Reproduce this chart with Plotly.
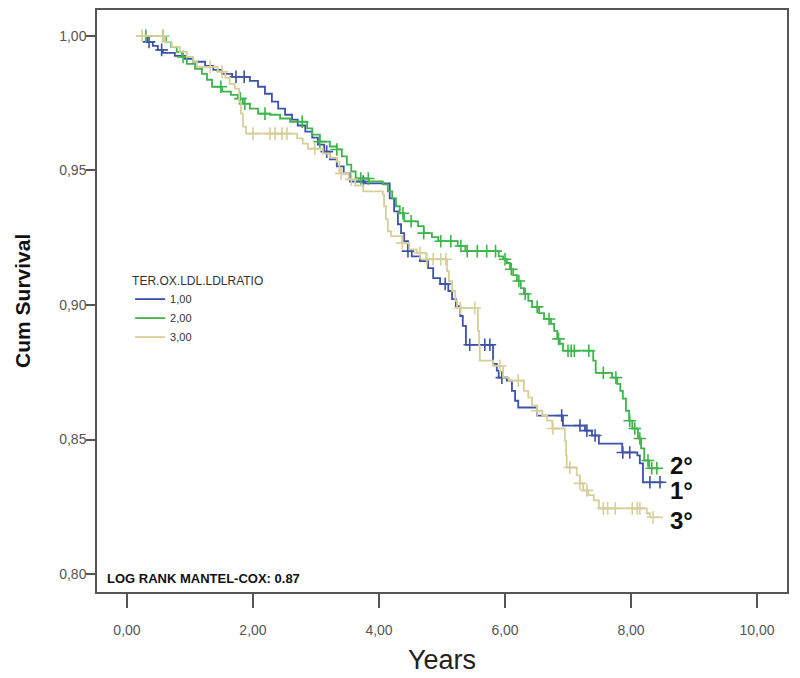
import numpy as np
import plotly.graph_objects as go

# ---------------- data ----------------
group_names = ["1,00", "2,00", "3,00"]

g1_time = [0.20, 0.32, 0.41, 0.49, 0.57, 0.76, 0.92, 1.05, 1.24, 1.37, 1.51, 1.67, 1.95, 2.08, 2.19,
           2.30, 2.40, 2.51, 2.62, 2.71, 2.83, 2.94, 3.03, 3.13, 3.22, 3.33, 3.44, 3.54, 3.78, 4.17,
           4.24, 4.30, 4.35, 4.40, 4.46, 4.52, 4.65, 4.78, 4.86, 4.97, 5.10, 5.16, 5.22, 5.29, 5.33,
           5.38, 5.81, 5.87, 5.90, 6.03, 6.11, 6.16, 6.21, 6.51, 6.92, 7.27, 7.38, 7.49, 7.86, 8.10,
           8.14, 8.19]
g1_surv = [1.0, 0.9978, 0.9963, 0.9948, 0.9937, 0.9926, 0.9915, 0.9904, 0.9889, 0.9874, 0.9859, 0.9848,
           0.9833, 0.9811, 0.9785, 0.9756, 0.9730, 0.9707, 0.9689, 0.9667, 0.9644, 0.9622, 0.9596,
           0.9570, 0.9541, 0.9515, 0.9489, 0.9459, 0.9452, 0.9396, 0.9348, 0.9300, 0.9267, 0.9237,
           0.9200, 0.9181, 0.9163, 0.9137, 0.9100, 0.9078, 0.9052, 0.9022, 0.8996, 0.8959, 0.8922,
           0.8852, 0.8781, 0.8756, 0.8730, 0.8719, 0.8681, 0.8644, 0.8619, 0.8589, 0.8552, 0.8533,
           0.8515, 0.8485, 0.8452, 0.8441, 0.8411, 0.8341]
g1_end = 8.51
g1_cens = [0.35, 0.55, 1.73, 1.86, 3.17, 3.75, 4.46, 5.05, 5.44, 5.68, 5.76, 5.95, 6.90, 7.19, 7.30,
           7.43, 7.87, 7.98, 8.30, 8.46]

g2_time = [0.20, 0.62, 0.70, 0.79, 0.87, 0.95, 1.08, 1.19, 1.27, 1.35, 1.51, 1.65, 1.76, 1.84, 1.95,
           2.08, 2.27, 2.43, 2.59, 2.86, 2.94, 3.06, 3.22, 3.33, 3.41, 3.49, 3.56, 3.63, 3.84, 4.06,
           4.14, 4.21, 4.27, 4.33, 4.40, 4.62, 4.71, 4.84, 4.94, 5.25, 5.37, 5.90, 5.97, 6.03, 6.08,
           6.13, 6.19, 6.25, 6.30, 6.37, 6.43, 6.54, 6.62, 6.73, 6.78, 6.83, 6.87, 6.92, 7.40, 7.44,
           7.70, 7.78, 7.83, 7.87, 7.92, 7.97, 8.02, 8.11, 8.16, 8.21, 8.29]
g2_surv = [1.0, 0.9978, 0.9959, 0.9941, 0.9922, 0.9896, 0.9878, 0.9859, 0.9837, 0.9811, 0.9793, 0.9781,
           0.9767, 0.9748, 0.9730, 0.9711, 0.9707, 0.9693, 0.9681, 0.9656, 0.9633, 0.9607, 0.9589,
           0.9578, 0.9552, 0.9522, 0.9496, 0.9470, 0.9459, 0.9448, 0.9422, 0.9396, 0.9367, 0.9341,
           0.9311, 0.9293, 0.9267, 0.9252, 0.9237, 0.9219, 0.9200, 0.9181, 0.9170, 0.9156, 0.9133,
           0.9111, 0.9089, 0.9063, 0.9041, 0.9015, 0.8993, 0.8970, 0.8948, 0.8930, 0.8904, 0.8874,
           0.8856, 0.8830, 0.8793, 0.8748, 0.8730, 0.8707, 0.8681, 0.8652, 0.8607, 0.8570, 0.8541,
           0.8504, 0.8467, 0.8422, 0.8393]
g2_end = 8.45
g2_cens = [0.30, 0.57, 0.89, 1.49, 1.80, 1.87, 2.19, 2.78, 3.06, 3.33, 3.71, 3.83, 4.38, 4.51, 4.71,
           4.98, 5.14, 5.30, 5.40, 5.56, 5.71, 5.85, 6.00, 6.10, 6.22, 6.32, 6.51, 6.70, 6.85, 7.00,
           7.05, 7.10, 7.33, 7.56, 7.76, 7.98, 8.06, 8.14, 8.27, 8.33, 8.41]

g3_time = [0.15, 0.60, 0.71, 0.84, 0.95, 1.05, 1.11, 1.44, 1.56, 1.63, 1.71, 1.78, 1.81, 1.84, 1.89,
           2.70, 2.79, 2.87, 3.11, 3.22, 3.33, 3.37, 3.52, 3.62, 3.75, 4.06, 4.08, 4.11, 4.14, 4.19,
           4.37, 4.48, 4.60, 4.75, 5.08, 5.11, 5.16, 5.21, 5.24, 5.57, 5.59, 5.60, 5.81, 5.97, 6.06,
           6.30, 6.37, 6.43, 6.51, 6.59, 6.67, 6.75, 6.95, 6.97, 6.98, 7.14, 7.19, 7.24, 7.32, 7.41,
           7.49, 8.25, 8.30]
g3_surv = [1.0, 0.9978, 0.9959, 0.9941, 0.9922, 0.9904, 0.9885, 0.9867, 0.9844, 0.9822, 0.9804, 0.9756,
           0.9711, 0.9663, 0.9637, 0.9619, 0.9600, 0.9581, 0.9563, 0.9548, 0.9533, 0.9489, 0.9467,
           0.9444, 0.9422, 0.9411, 0.9367, 0.9319, 0.9274, 0.9256, 0.9230, 0.9207, 0.9193, 0.9170,
           0.9126, 0.9089, 0.9052, 0.9015, 0.8989, 0.8904, 0.8848, 0.8793, 0.8774, 0.8730, 0.8719,
           0.8681, 0.8656, 0.8626, 0.8607, 0.8589, 0.8570, 0.8541, 0.8496, 0.8441, 0.8396, 0.8367,
           0.8337, 0.8311, 0.8293, 0.8274, 0.8244, 0.8226, 0.8211]
g3_end = 8.51
g3_cens = [0.24, 0.57, 1.32, 1.51, 2.00, 2.27, 2.35, 2.46, 2.54, 2.98, 3.40, 3.56, 4.37, 4.65, 4.76,
           4.86, 4.98, 5.06, 5.29, 5.52, 5.92, 6.21, 6.51, 6.76, 7.03, 7.19, 7.30, 7.56, 7.63, 7.75,
           8.02, 8.10, 8.14, 8.35]

x_tick_vals = [0, 2, 4, 6, 8, 10]
x_tick_text = ["0,00", "2,00", "4,00", "6,00", "8,00", "10,00"]
y_tick_vals = [0.80, 0.85, 0.90, 0.95, 1.00]
y_tick_text = ["0,80", "0,85", "0,90", "0,95", "1,00"]

end_labels = ["2°", "1°", "3°"]
end_label_y = [0.8404, 0.8311, 0.8200]
end_label_x = 8.58

colors = ["#3d52a8", "#3db54a", "#d6cf99"]

# ---------------- figure ----------------
fig = go.Figure()

groups = [
    (g1_time, g1_surv, g1_end, g1_cens),
    (g2_time, g2_surv, g2_end, g2_cens),
    (g3_time, g3_surv, g3_end, g3_cens),
]

for name, col, (tt, ss, tend, cens) in zip(group_names, colors, groups):
    n = min(len(tt), len(ss))
    t = np.array(tt[:n], dtype=float)
    s = np.array(ss[:n], dtype=float)
    xs = list(t) + [tend]
    ys = list(s) + [s[-1]]
    fig.add_trace(go.Scatter(
        x=xs, y=ys, mode="lines", name=name,
        line=dict(color=col, width=1.8, shape="hv"),
        legendgroup=name, showlegend=True,
    ))
    c = np.array(cens, dtype=float)
    idx = np.clip(np.searchsorted(t, c, side="right") - 1, 0, n - 1)
    fig.add_trace(go.Scatter(
        x=c, y=s[idx], mode="markers", name=name,
        marker=dict(symbol="cross-thin", size=9, line=dict(color=col, width=1.6), color=col),
        legendgroup=name, showlegend=False, hoverinfo="skip",
    ))

FONT = "Arial, Liberation Sans, Helvetica, sans-serif"

# the page adds an 8px body margin; size the figure so the frame lands where the reference has it
fig.update_layout(
    width=792, height=670,
    margin=dict(l=89, r=13, t=0, b=86),
    paper_bgcolor="white", plot_bgcolor="white",
    font=dict(family=FONT, color="#444"),
    showlegend=True,
    legend=dict(
        title=dict(text="TER.OX.LDL.LDLRATIO", font=dict(size=12, color="#333", family=FONT)),
        x=0.048, y=0.555, xanchor="left", yanchor="top",
        bgcolor="rgba(0,0,0,0)", font=dict(size=11, color="#333", family=FONT),
        tracegroupgap=0, itemwidth=30,
    ),
    xaxis=dict(
        range=[-0.476, 10.476], tickvals=x_tick_vals, ticktext=x_tick_text,
        showgrid=False, zeroline=False, showline=True, mirror=True,
        linecolor="#555", linewidth=1.5, ticks="outside", ticklen=14, tickwidth=1.5,
        tickcolor="#555", tickfont=dict(size=14, color="#555", family=FONT),
        ticklabelstandoff=10,
    ),
    yaxis=dict(
        range=[0.79333, 1.00963], tickvals=y_tick_vals, ticktext=y_tick_text,
        showgrid=False, zeroline=False, showline=True, mirror=True,
        linecolor="#555", linewidth=1.5, ticks="outside", ticklen=9, tickwidth=1.5,
        tickcolor="#555", tickfont=dict(size=14, color="#555", family=FONT),
        ticklabelstandoff=-3,
    ),
)

annotations = [
    dict(text="<b>Cum Survival</b>", x=-0.1088, y=0.5, xref="paper", yref="paper",
         textangle=-90, showarrow=False, xanchor="center", yanchor="middle",
         font=dict(size=21, color="#111", family=FONT)),
    dict(text="Years", x=0.5, y=-0.1164, xref="paper", yref="paper",
         showarrow=False, xanchor="center", yanchor="middle",
         font=dict(size=27, color="#222", family=FONT)),
    dict(text="<b>LOG RANK MANTEL-COX: 0.87</b>", x=0.011, y=0.024, xref="paper", yref="paper",
         showarrow=False, xanchor="left", yanchor="middle",
         font=dict(size=13, color="#111", family=FONT)),
]
for lab, yv in zip(end_labels, end_label_y):
    annotations.append(dict(text="<b>" + lab + "</b>", x=end_label_x, y=yv, xref="x", yref="y",
                            showarrow=False, xanchor="left", yanchor="middle",
                            font=dict(size=24, color="#111", family=FONT)))
fig.update_layout(annotations=annotations)

fig.write_html("out.html")
